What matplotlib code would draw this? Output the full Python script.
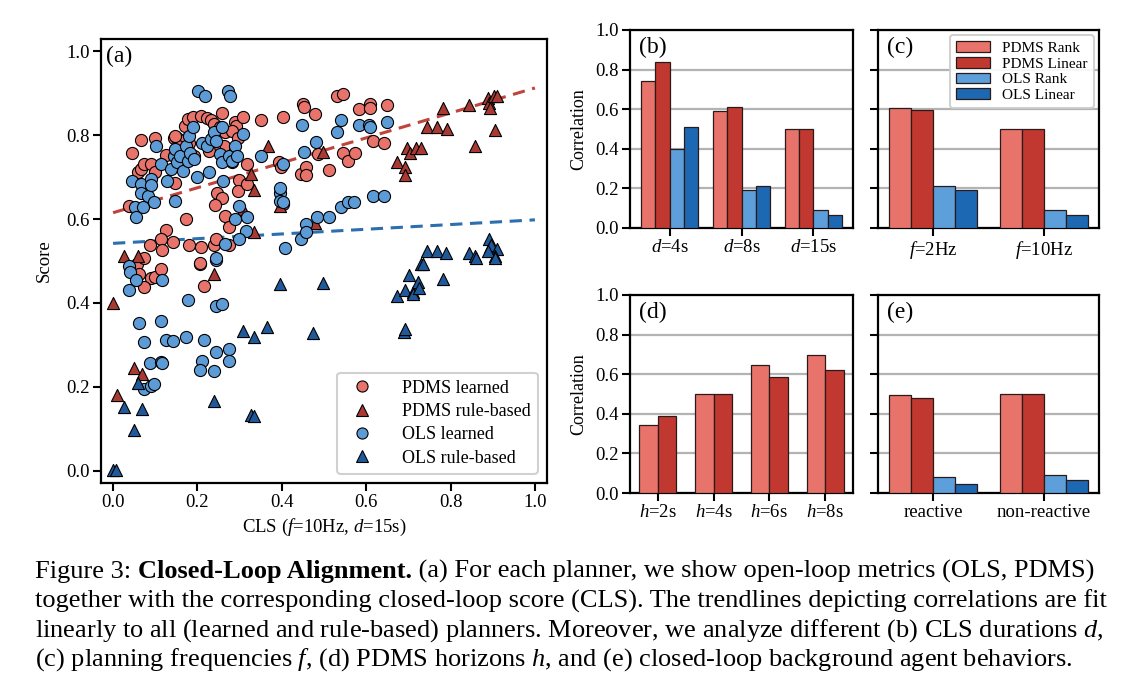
import matplotlib
matplotlib.use("Agg")
import matplotlib.pyplot as plt
import numpy as np
from matplotlib.lines import Line2D

plt.rcParams['font.family'] = ['Liberation Serif', 'DejaVu Serif']
plt.rcParams['mathtext.fontset'] = 'custom'
plt.rcParams['mathtext.rm'] = 'Liberation Serif'
plt.rcParams['mathtext.it'] = 'Liberation Serif:italic'
plt.rcParams['mathtext.bf'] = 'Liberation Serif:bold'

# ---- (a) scatter data: (CLS, score)
pdms_learned_x = [0.044, 0.066, 0.038, 0.060, 0.066, 0.074, 0.091, 0.100, 0.100, 0.125, 0.145, 0.151,
                  0.147, 0.172, 0.126, 0.113, 0.087, 0.115, 0.142, 0.180, 0.208, 0.206, 0.240, 0.244,
                  0.275, 0.171, 0.177, 0.189, 0.208, 0.223, 0.232, 0.240, 0.253, 0.258, 0.265, 0.288,
                  0.292, 0.309, 0.283, 0.296, 0.262, 0.240, 0.227, 0.193, 0.181, 0.172, 0.155, 0.147,
                  0.283, 0.317, 0.298, 0.296, 0.317, 0.246, 0.258, 0.242, 0.265, 0.275, 0.350, 0.403,
                  0.394, 0.398, 0.403, 0.450, 0.452, 0.478, 0.445, 0.458, 0.458, 0.486, 0.512, 0.532,
                  0.544, 0.544, 0.558, 0.574, 0.582, 0.608, 0.608, 0.616, 0.643, 0.650,
                  0.057, 0.061, 0.074, 0.091, 0.100, 0.113, 0.074, 0.206, 0.215]
pdms_learned_y = [0.758, 0.787, 0.630, 0.711, 0.719, 0.731, 0.731, 0.792, 0.711, 0.752, 0.792, 0.794,
                  0.686, 0.600, 0.574, 0.552, 0.538, 0.527, 0.546, 0.538, 0.533, 0.493, 0.537, 0.552,
                  0.538, 0.822, 0.838, 0.842, 0.846, 0.841, 0.836, 0.826, 0.818, 0.853, 0.806, 0.830,
                  0.822, 0.842, 0.810, 0.794, 0.774, 0.770, 0.762, 0.750, 0.782, 0.790, 0.774, 0.798,
                  0.735, 0.731, 0.692, 0.667, 0.683, 0.663, 0.651, 0.634, 0.608, 0.582, 0.836, 0.842,
                  0.735, 0.723, 0.636, 0.873, 0.867, 0.850, 0.707, 0.723, 0.705, 0.754, 0.717, 0.893,
                  0.897, 0.758, 0.738, 0.758, 0.861, 0.873, 0.865, 0.786, 0.782, 0.871,
                  0.494, 0.470, 0.506, 0.459, 0.462, 0.482, 0.438, 0.496, 0.440]

pdms_rule_x = [0.027, 0.060, 0.240, 0.328, 0.333, 0.309, 0.333, 0.367, 0.396, 0.478, 0.498, 0.674,
               0.693, 0.693, 0.696, 0.704, 0.717, 0.731, 0.744, 0.768, 0.791, 0.782, 0.843, 0.857,
               0.889, 0.890, 0.893, 0.902, 0.911, 0.906, 0.000, 0.049, 0.068, 0.009]
pdms_rule_y = [0.511, 0.512, 0.470, 0.707, 0.670, 0.625, 0.570, 0.773, 0.630, 0.590, 0.760, 0.736,
               0.723, 0.705, 0.768, 0.757, 0.768, 0.768, 0.818, 0.818, 0.815, 0.865, 0.871, 0.773,
               0.889, 0.877, 0.865, 0.893, 0.893, 0.812, 0.400, 0.246, 0.230, 0.182]

ols_learned_x = [0.046, 0.053, 0.055, 0.066, 0.066, 0.070, 0.083, 0.091, 0.091, 0.097, 0.102, 0.113,
                 0.128, 0.138, 0.145, 0.147, 0.147, 0.151, 0.159, 0.165, 0.172, 0.177, 0.181, 0.183,
                 0.189, 0.193, 0.198, 0.202, 0.211, 0.218, 0.227, 0.223, 0.232, 0.240, 0.244, 0.253,
                 0.258, 0.258, 0.260, 0.273, 0.278, 0.275, 0.283, 0.290, 0.293, 0.298, 0.309, 0.317,
                 0.288, 0.316, 0.298, 0.266, 0.243, 0.350, 0.403, 0.396, 0.396, 0.403, 0.396, 0.407,
                 0.445, 0.449, 0.452, 0.458, 0.458, 0.480, 0.484, 0.512, 0.531, 0.541, 0.541, 0.556,
                 0.572, 0.582, 0.606, 0.608, 0.616, 0.643, 0.650,
                 0.038, 0.040, 0.038, 0.055, 0.117, 0.061, 0.113, 0.074, 0.126, 0.143, 0.172, 0.177,
                 0.215, 0.087, 0.114, 0.117, 0.074, 0.091, 0.098, 0.211, 0.205, 0.239, 0.245, 0.275,
                 0.275, 0.245, 0.258, 0.243]
ols_learned_y = [0.691, 0.628, 0.604, 0.683, 0.663, 0.628, 0.655, 0.695, 0.680, 0.640, 0.774, 0.731,
                 0.691, 0.719, 0.750, 0.766, 0.644, 0.735, 0.750, 0.715, 0.774, 0.739, 0.798, 0.758,
                 0.818, 0.743, 0.699, 0.905, 0.782, 0.892, 0.711, 0.774, 0.790, 0.806, 0.786, 0.754,
                 0.818, 0.735, 0.691, 0.905, 0.893, 0.750, 0.739, 0.774, 0.750, 0.632, 0.802, 0.604,
                 0.600, 0.572, 0.552, 0.540, 0.503, 0.750, 0.731, 0.663, 0.644, 0.640, 0.675, 0.530,
                 0.552, 0.823, 0.760, 0.587, 0.568, 0.784, 0.604, 0.604, 0.806, 0.836, 0.628, 0.640,
                 0.640, 0.823, 0.823, 0.820, 0.654, 0.654, 0.831,
                 0.488, 0.474, 0.430, 0.454, 0.454, 0.352, 0.358, 0.306, 0.312, 0.310, 0.320, 0.408,
                 0.312, 0.256, 0.259, 0.256, 0.195, 0.203, 0.208, 0.262, 0.240, 0.238, 0.283, 0.290,
                 0.262, 0.392, 0.398, 0.506]

ols_rule_x = [0.731, 0.744, 0.768, 0.789, 0.843, 0.857, 0.890, 0.893, 0.895, 0.911, 0.906, 0.889,
              0.000, 0.006, 0.026, 0.049, 0.058, 0.068, 0.240, 0.307, 0.328, 0.333, 0.334, 0.364,
              0.396, 0.475, 0.497, 0.674, 0.689, 0.693, 0.691, 0.702, 0.710, 0.710, 0.722, 0.725,
              0.734, 0.782, 0.860, 0.906]
ols_rule_y = [0.493, 0.523, 0.523, 0.518, 0.518, 0.512, 0.552, 0.533, 0.538, 0.528, 0.511, 0.525,
              0.003, 0.003, 0.152, 0.098, 0.210, 0.147, 0.166, 0.334, 0.134, 0.130, 0.318, 0.342,
              0.446, 0.328, 0.448, 0.416, 0.331, 0.339, 0.430, 0.466, 0.426, 0.422, 0.451, 0.435,
              0.494, 0.458, 0.506, 0.506]

# trendlines: score at CLS = 0 and CLS = 1
trend_cls = [0.0, 1.0]
pdms_trend = [0.615, 0.912]
ols_trend = [0.542, 0.598]

# ---- (b)-(e) correlation bars
series = ["PDMS Rank", "PDMS Linear", "OLS Rank", "OLS Linear"]
dur_labels = ["$d$=4s", "$d$=8s", "$d$=15s"]
dur_vals = [[0.74, 0.59, 0.50], [0.84, 0.61, 0.50], [0.40, 0.19, 0.09], [0.51, 0.21, 0.065]]
freq_labels = ["$f$=2Hz", "$f$=10Hz"]
freq_vals = [[0.605, 0.50], [0.595, 0.50], [0.21, 0.09], [0.19, 0.065]]
hor_labels = ["$h$=2s", "$h$=4s", "$h$=6s", "$h$=8s"]
hor_vals = [[0.345, 0.50, 0.645, 0.695], [0.39, 0.50, 0.585, 0.62]]
agent_labels = ["reactive", "non-reactive"]
agent_vals = [[0.495, 0.50], [0.48, 0.50], [0.08, 0.09], [0.045, 0.065]]

bar_colors = ["#e8736b", "#c0382f", "#5d9fdb", "#1d68b2"]
c_pdms_l, c_pdms_r = "#e8736b", "#a93a33"
c_ols_l, c_ols_r = "#5d9bd6", "#20599a"

W, H = 1140, 692
fig = plt.figure(figsize=(W / 100, H / 100), dpi=100)


def px_axes(l, t, r, b):
    return fig.add_axes([l / W, 1 - b / H, (r - l) / W, (b - t) / H])


def style(ax):
    for s in ax.spines.values():
        s.set_linewidth(1.6)
    ax.tick_params(direction='out', length=6, width=1.5, labelsize=13.5, pad=2)


# (a)
ax = px_axes(101, 39, 547, 483)
style(ax)
kw = dict(s=76, edgecolors='black', linewidths=0.8, zorder=3)
ax.scatter(pdms_learned_x, pdms_learned_y, marker='o', color=c_pdms_l, **kw)
ax.scatter(pdms_rule_x, pdms_rule_y, marker='^', color=c_pdms_r, **kw)
ax.scatter(ols_learned_x, ols_learned_y, marker='o', color=c_ols_l, **kw)
ax.scatter(ols_rule_x, ols_rule_y, marker='^', color=c_ols_r, **kw)

ax.plot(trend_cls, pdms_trend, '--', color="#c0433d", lw=2.2, dashes=(4, 2.5), zorder=2)
ax.plot(trend_cls, ols_trend, '--', color="#2c6eae", lw=2.2, dashes=(4, 2.5), zorder=2)

ax.set_xlim(-0.0286, 1.0286)
ax.set_ylim(-0.0286, 1.0286)
ax.set_xticks(np.arange(0, 1.01, 0.2))
ax.set_yticks(np.arange(0, 1.01, 0.2))
ax.set_xlabel("CLS ($f$=10Hz, $d$=15s)", fontsize=13.5)
ax.set_ylabel("Score", fontsize=13.5, labelpad=10)
ax.text(0.012, 0.985, "(a)", transform=ax.transAxes, fontsize=17, va='top', ha='left')
handles = [Line2D([], [], ls='', marker=m, markersize=8, markerfacecolor=c, markeredgecolor='black',
                  markeredgewidth=0.8) for m, c in
           [('o', c_pdms_l), ('^', c_pdms_r), ('o', c_ols_l), ('^', c_ols_r)]]
leg = ax.legend(handles, ["PDMS learned", "PDMS rule-based", "OLS learned", "OLS rule-based"],
                loc='lower right', fontsize=13, labelspacing=0.35, handletextpad=1.2,
                borderaxespad=0.5, framealpha=0.9)
leg.get_frame().set_edgecolor('#cccccc')
leg.get_frame().set_linewidth(1.5)


def bars(ax, labels, vals, width, letter, ylab):
    style(ax)
    n = len(vals)
    x = np.arange(len(labels))
    for i, v in enumerate(vals):
        ax.bar(x + (i - (n - 1) / 2) * width, v, width, color=bar_colors[i], edgecolor='#2a1a1a',
               linewidth=0.9, zorder=3, label=series[i])
    ax.set_ylim(0, 1.0)
    ax.set_yticks(np.arange(0, 1.01, 0.2))
    ax.yaxis.grid(True, color='#b3b3b3', lw=1.6, zorder=0)
    ax.set_axisbelow(True)
    ax.set_xticks(x)
    ax.set_xticklabels(labels)
    pad = 0.05 if len(labels) == 3 else 0.0
    ax.set_xlim(-0.5 - pad, len(labels) - 0.5 + pad)
    ax.text(0.04, 0.965, letter, transform=ax.transAxes, fontsize=17, va='top', ha='left')
    if ylab:
        ax.set_ylabel("Correlation", fontsize=13, labelpad=6)
    else:
        ax.set_yticklabels([])


ab = px_axes(630, 30, 853, 228)
bars(ab, dur_labels, dur_vals, 0.2, "(b)", True)
ac = px_axes(878, 30, 1099, 228)
bars(ac, freq_labels, freq_vals, 0.2, "(c)", False)
lg = ac.legend(loc='upper right', fontsize=11, labelspacing=0.12, handlelength=2.2, handleheight=0.7,
               borderaxespad=0.35, framealpha=0.9)
lg.get_frame().set_edgecolor('#cccccc')
lg.get_frame().set_linewidth(1.5)
ad = px_axes(630, 295, 853, 493)
bars(ad, hor_labels, hor_vals, 0.33, "(d)", True)
ae = px_axes(878, 295, 1099, 493)
bars(ae, agent_labels, agent_vals, 0.2, "(e)", False)

# caption
cs = 19
t1 = fig.text(35 / W, 1 - 572 / H, "Figure 3: ", fontsize=cs, va='center', ha='left')
t2 = fig.add_artist(plt.Annotation("Closed-Loop Alignment.", xy=(1, 0), xycoords=t1, va='bottom',
                                   ha='left', fontsize=cs, fontweight='bold'))
fig.add_artist(plt.Annotation(" (a) For each planner, we show open-loop metrics (OLS, PDMS)", xy=(1, 0),
                              xycoords=t2, va='bottom', ha='left', fontsize=cs))
lines = ["together with the corresponding closed-loop score (CLS). The trendlines depicting correlations are fit",
         "linearly to all (learned and rule-based) planners. Moreover, we analyze different (b) CLS durations $d$,",
         "(c) planning frequencies $f$, (d) PDMS horizons $h$, and (e) closed-loop background agent behaviors."]
for k, ln in enumerate(lines):
    fig.text(35 / W, 1 - (601 + 29.5 * k) / H, ln, fontsize=cs, va='center', ha='left')

fig.savefig("out.png", dpi=100)
